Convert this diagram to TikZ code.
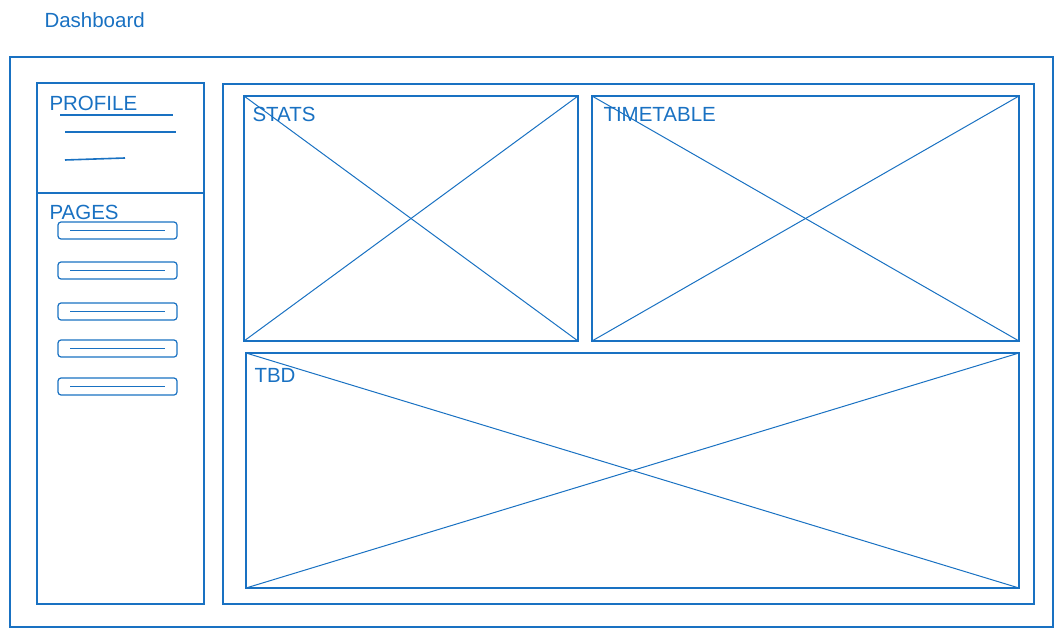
\documentclass[tikz,border=0pt]{standalone}
\usepackage{fontspec}
\setmainfont{Liberation Sans}
\usetikzlibrary{positioning}
\definecolor{sketch}{HTML}{1971C2}

\begin{document}
\begin{tikzpicture}[x=1pt,y=-1pt
	,draw=sketch
	,text=sketch
	,line width=1pt]
  \tikzstyle{frame}=[draw,rectangle,inner sep=0pt,outer sep=0pt,anchor=north west]
  \tikzstyle{lbl}=[inner sep=0pt,anchor=base west,font=\fontsize{20.5}{24}\selectfont]
  \tikzstyle{pagebtn}=[frame,rounded corners=3pt,line width=1.2pt,
    minimum width=119pt,minimum height=17pt]

  \useasboundingbox (0,0) rectangle (1064,636);

  % title and outer frame
  \node[lbl] (title) at (44,28) {Dashboard};
  \node[frame,line width=1.8pt,minimum width=1043pt,minimum height=570pt]
    (outer) at (10,57) {};

  % sidebar
  \node[frame,line width=1.8pt,minimum width=167pt,minimum height=521pt]
    (sidebar) at (37,83) {};
  \coordinate (divl) at (37,193);
  \coordinate (divr) at (204,193);
  \draw[line width=1.4pt] (divl) -- (divr);
  \node[lbl] (profile) at (49,111) {PROFILE};
  \draw[line width=1.6pt] (60,115) -- (173,115);
  \draw[line width=1.6pt] (65,132) -- (176,132);
  \draw[line width=1.6pt] (65,160) -- (125,158);
  \node[lbl] (pages) at (49,220) {PAGES};
  \foreach \y [count=\i] in {222,262,303,340,378}
  {
    \node[pagebtn] (page\i) at (58,\y) {};
    \draw[line width=1.4pt] ([xshift=12pt]page\i.west) -- ([xshift=-12pt]page\i.east);
  }

  % content area
  \node[frame,line width=1.2pt,minimum width=811pt,minimum height=520pt]
    (content) at (223,84) {};

  % stats
  \node[frame,line width=1.4pt,minimum width=334pt,minimum height=245pt]
    (stats) at (244,96) {};
  \draw (stats.north west) -- (stats.south east);
  \draw (stats.north east) -- (stats.south west);
  \node[lbl] (statslbl) at (252,122) {STATS};

  % timetable
  \node[frame,line width=1.4pt,minimum width=427pt,minimum height=245pt]
    (timetable) at (592,96) {};
  \draw (timetable.north west) -- (timetable.south east);
  \draw (timetable.north east) -- (timetable.south west);
  \node[lbl] (timetablelbl) at (603,122) {TIMETABLE};

  % tbd
  \node[frame,line width=1.4pt,minimum width=773pt,minimum height=235pt]
    (tbd) at (246,353) {};
  \draw (tbd.north west) -- (tbd.south east);
  \draw (tbd.north east) -- (tbd.south west);
  \node[lbl] (tbdlbl) at (254,382) {TBD};

\end{tikzpicture}
\end{document}
